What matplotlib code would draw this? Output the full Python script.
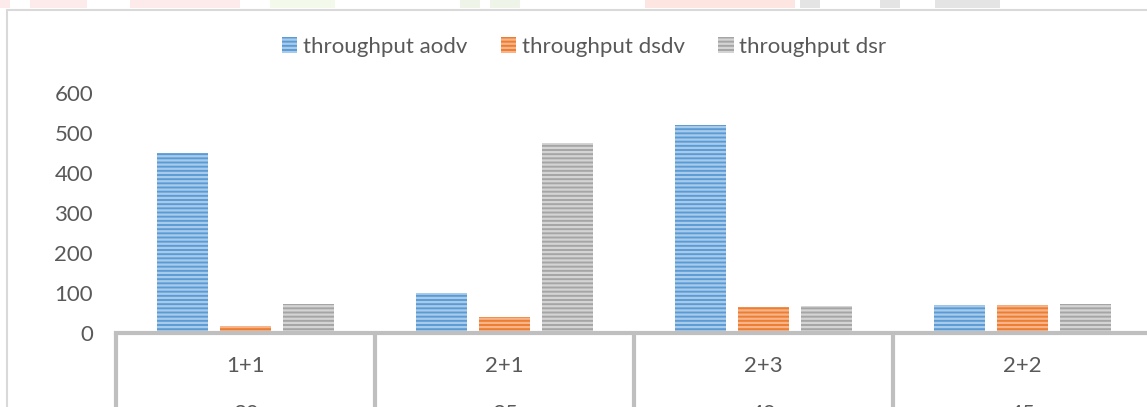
import matplotlib
matplotlib.use("Agg")
import matplotlib.pyplot as plt
from matplotlib.patches import Rectangle
from matplotlib.transforms import blended_transform_factory
import numpy as np

plt.rcParams['font.family'] = ['Lato', 'DejaVu Sans']
plt.rcParams['hatch.linewidth'] = 1.6

categories = ["1+1", "2+1", "2+3", "2+2"]
outer_labels = ["30", "35", "40", "45"]
series_names = ["throughput aodv", "throughput dsdv", "throughput dsr"]
aodv = [450, 100, 520, 70]
dsdv = [17, 40, 65, 70]
dsr = [72, 475, 68, 72]
yticks = [0, 100, 200, 300, 400, 500, 600]

face = ["#5b9bd5", "#ed7d31", "#a5a5a5"]
stripe = ["#a9cbea", "#f5b48a", "#d4d4d4"]

W, H = 1147, 407
fig = plt.figure(figsize=(W / 100, H / 100), dpi=100)

def fx(px):
    return px / W

def fy(py):
    return 1 - py / H

# faint watermark strip at top
for x0, x1, c in [(0, 10, "#fdeaea"), (30, 87, "#fdeaea"), (130, 240, "#fdeaea"),
                  (270, 335, "#f3faec"), (460, 480, "#eef5e8"), (490, 520, "#eef5e8"),
                  (645, 795, "#fde6e2"), (800, 820, "#e4e4e4"), (880, 900, "#e4e4e4"),
                  (935, 1000, "#e4e4e4")]:
    fig.patches.append(Rectangle((fx(x0), fy(8)), fx(x1 - x0), 8 / H,
                                 transform=fig.transFigure, facecolor=c,
                                 edgecolor='none', zorder=0))

# chart border
fig.patches.append(Rectangle((fx(7), fy(420)), fx(1200), (420 - 9.5) / H,
                             transform=fig.transFigure, facecolor='white',
                             edgecolor='#d9d9d9', linewidth=1.5, zorder=0.5))

left_px, right_px, top_px, bot_px = 116, 1152, 93, 333
ax = fig.add_axes([fx(left_px), fy(bot_px), fx(right_px - left_px), (bot_px - top_px) / H])
ax.set_zorder(2)
ax.patch.set_visible(False)

x = np.arange(len(categories))
bw = 0.2
gap = 0.243
for i, (vals, name) in enumerate(zip([aodv, dsdv, dsr], series_names)):
    ax.bar(x + (i - 1) * gap, vals, bw, color=face[i], edgecolor=stripe[i],
           hatch='----', linewidth=0, label=name)

ax.set_xlim(-0.5, len(categories) - 0.5)
ax.set_ylim(0, 600)
ax.set_yticks(yticks)
ax.set_yticklabels([str(v) for v in yticks], fontsize=16, color='#595959')
ax.tick_params(axis='y', length=0, pad=16.5)
ax.set_xticks([])
for s in ['top', 'right', 'left']:
    ax.spines[s].set_visible(False)
ax.spines['bottom'].set_color('#bfbfbf')
ax.spines['bottom'].set_linewidth(3)

# category boxes
for k in range(len(categories) + 1):
    ax.plot([k - 0.5, k - 0.5], [0, -200], color='#bfbfbf', lw=3,
            clip_on=False, solid_capstyle='butt')
tr = blended_transform_factory(ax.transData, fig.transFigure)
for k, (c, o) in enumerate(zip(categories, outer_labels)):
    ax.text(k, fy(366), c, transform=tr, ha='center', va='center',
            fontsize=16, color='#595959', clip_on=False)
    ax.text(k, fy(414), o, transform=tr, ha='center', va='center',
            fontsize=16, color='#595959', clip_on=False)

leg = fig.legend(loc='center', bbox_to_anchor=(fx(584), fy(47)), ncol=3, frameon=False,
                 fontsize=16, handlelength=0.7, handleheight=0.7, handletextpad=0.25,
                 columnspacing=1.5)
for t in leg.get_texts():
    t.set_color('#595959')

fig.savefig("out.png", dpi=100)
